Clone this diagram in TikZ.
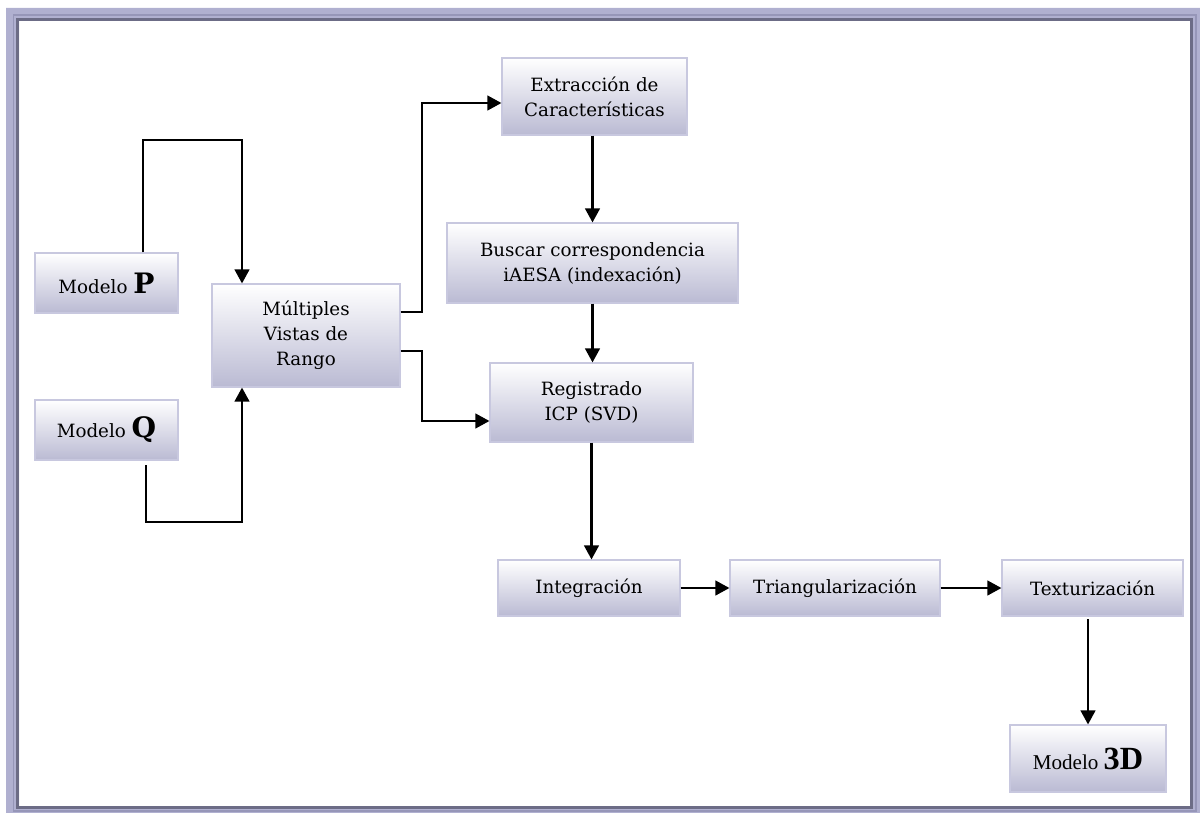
\documentclass[tikz,border=0pt]{standalone}
\usepackage{fontspec}
\setmainfont{DejaVu Serif}
\newfontfamily\narrowserif{Liberation Serif}
\usetikzlibrary{arrows.meta}

\definecolor{boxbot}{HTML}{BABAD3}
\definecolor{boxline}{HTML}{C8C8DF}
\definecolor{framelav}{HTML}{B0B0D0}
\definecolor{framemid}{HTML}{9696B8}
\definecolor{framedark}{HTML}{6C6C86}

\begin{document}
\begin{tikzpicture}[x=0.025cm, y=-0.025cm,
    box/.style={draw=boxline, line width=0.8pt, top color=white, bottom color=boxbot,
      align=center, inner sep=0pt, font=\fontsize{13}{17.8}\selectfont},
    link/.style={line width=1.5pt},
    arr/.style={link, -{Triangle[length=10pt, width=10.5pt]}}]

    % page frame
    \useasboundingbox (0,0) rectangle (1200,813);
    \fill[framelav, even odd rule] (6,8) rectangle (1206,819) (19,21) rectangle (1190,807);
    \draw[framemid, line width=1.2pt] (13.5,15) rectangle (1196,811);
    \draw[framedark, line width=1.6pt] (17.5,19.5) rectangle (1191.5,807.5);

    % input models
    \node[box, minimum width=3.575cm, minimum height=1.5cm] (mp) at (106.5,283)
      {Modelo {\fontsize{20}{20}\selectfont\bfseries P}};
    \node[box, minimum width=3.575cm, minimum height=1.5cm] (mq) at (106.5,430)
      {Modelo {\fontsize{20}{20}\selectfont\bfseries Q}};
    \node[box, minimum width=4.7cm, minimum height=2.575cm] (vistas) at (306,335.5)
      {Múltiples\\Vistas de\\Rango};

    % matching chain
    \node[box, minimum width=4.625cm, minimum height=1.925cm] (extr) at (594.5,96.5)
      {Extracción de\\Características};
    \node[box, minimum width=7.275cm, minimum height=2cm] (buscar) at (592.5,263)
      {Buscar correspondencia\\iAESA (indexación)};
    \node[box, minimum width=5.075cm, minimum height=1.975cm] (reg) at (591.5,402.5)
      {Registrado\\ICP (SVD)};

    % bottom row
    \node[box, minimum width=4.55cm, minimum height=1.4cm] (integ) at (589,588) {Integración};
    \node[box, minimum width=5.25cm, minimum height=1.4cm] (tri) at (835,588) {Triangularización};
    \node[box, minimum width=4.525cm, minimum height=1.4cm] (tex) at (1092.5,588) {Texturización};
    \node[box, minimum width=3.9cm, minimum height=1.675cm] (m3d) at (1088,758.5)
      {\narrowserif\fontsize{15}{15}\selectfont Modelo {\fontsize{23}{23}\selectfont\bfseries 3D}};

    % bend points
    \coordinate (pup) at (143,140);
    \coordinate (qdn) at (146,522);
    \coordinate (vin) at (242,0);
    \coordinate (vsplit) at (422,0);
    \coordinate (va) at (0,312);
    \coordinate (vb) at (0,351);
    \coordinate (ea) at (0,103);
    \coordinate (rb) at (0,421);

    % models to views
    \draw[arr] (mp.north -| pup) -- (pup) -| (vistas.north -| vin);
    \draw[arr, shorten <=3.5pt] (mq.south -| qdn) -- (qdn) -| (vistas.south -| vin);

    % views to features and registration
    \draw[arr] (vistas.east |- va) -- (vsplit |- va) |- (extr.west |- ea);
    \draw[arr] (vistas.east |- vb) -- (vsplit |- vb) |- (reg.west |- rb);

    % down the chain
    \draw[arr] (extr.south -| buscar.north) -- (buscar.north);
    \draw[arr] (buscar.south) -- (buscar.south |- reg.north);
    \draw[arr] (reg.south) -- (reg.south |- integ.north);

    % bottom row
    \draw[arr] (integ) -- (tri);
    \draw[arr] (tri) -- (tex);
    \draw[arr, shorten <=2pt] (tex.south -| m3d.north) -- (m3d.north);

  \end{tikzpicture}
\end{document}
